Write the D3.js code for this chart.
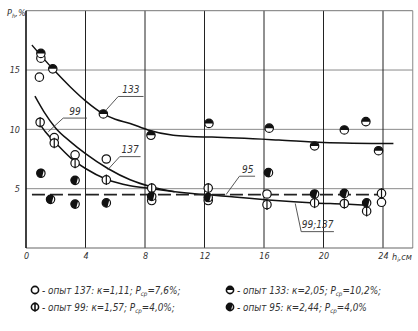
<!DOCTYPE html>
<html>
<head>
<meta charset="utf-8">
<script src="https://cdn.jsdelivr.net/npm/d3@7"></script>
<style>
  body { margin: 0; background: #fff; }
  svg { display: block; }
  text { font-family: "DejaVu Sans Condensed", "DejaVu Sans", sans-serif; font-style: italic; fill: #333; }
</style>
</head>
<body>
<figure id="chart" style="margin:0"></figure>
<script>
// ticks
const xTicks = [0, 4, 8, 12, 16, 20, 24];
const yTicks = [5, 10, 15];
const xGrid = [4, 8, 12, 16, 20, 24];
const yGrid = [5, 10, 15];

// experiment points [h, P]
const s137 = [[0.9,14.4],[1.0,16.0],[1.9,9.3],[3.3,7.85],[5.4,7.5],[8.45,4.0],[12.25,4.0],[16.2,4.55],[23.9,3.85]];
const s99 = [[0.95,10.6],[1.9,8.85],[3.3,7.15],[5.4,5.75],[8.45,5.05],[12.25,5.05],[16.2,3.65],[19.4,3.8],[21.4,3.75],[22.9,3.1],[23.9,4.6]];
const s133 = [[1.0,16.4],[1.8,15.1],[5.2,11.3],[8.4,9.5],[12.3,10.5],[16.35,10.1],[19.4,8.6],[21.4,9.95],[22.85,10.65],[23.7,8.2]];
const s95 = [[1.0,6.3],[1.65,4.1],[3.3,5.7],[3.3,3.7],[5.4,3.8],[8.45,4.35],[12.25,4.25],[16.3,6.35],[19.4,4.55],[21.4,4.6],[22.9,3.8]];

// fitted curves
const fit133 = [[0.4,17.1],[1.8,15.1],[3,13.55],[4,12.4],[5.2,11.3],[6,10.85],[7,10.5],[8.2,9.95],[9.9,9.5],[11,9.4],[12.5,9.35],[17,9.1],[20,8.9],[24.7,8.8]];
const fit99 = [[0.8,10.7],[1.3,9.8],[2,8.85],[3,7.6],[4,6.7],[5.4,5.8],[7,5.25],[8.45,5.0],[10,4.75]];
const fit137 = [[0.6,12.8],[1.2,11.5],[2,10.1],[3,8.95],[4,7.95],[5.5,6.7],[7,5.75],[8.45,5.15],[10,4.75]];
const fitTail = [[10,4.75],[12,4.5],[14,4.3],[16.3,4.05],[18,3.9],[19.4,3.8],[21.4,3.7],[22.9,3.6]];
const fit95 = [[0.4,4.5],[24,4.5]];

// curve labels: text, text pos, underline, leader end
const labels = [
  {t: "133", at: [7.05, 13.1], u: [6.2, 7.9, 12.77], p: [5.4, 11.65]},
  {t: "99", at: [3.3, 11.2], u: [2.5, 4.1, 10.95], p: [1.5, 9.8]},
  {t: "137", at: [7.0, 8.0], u: [6.3, 7.7, 7.7], p: [5.5, 6.6]},
  {t: "95", at: [14.9, 6.3], u: [14.35, 15.4, 6.05], p: [13.45, 4.5]},
  {t: "99;137", at: [19.6, 1.65], u: [18.5, 20.7, 1.38], p: [18.1, 3.75]}
];

const legendRows = [
  [{k: "open", t: "опыт 137: к=1,11; P", s: "ср", e: "=7,6%;"}, {k: "top", t: "опыт 133: к=2,05; P", s: "ср", e: "=10,2%;"}],
  [{k: "phi", t: "опыт 99: к=1,57; P", s: "ср", e: "=4,0%;"}, {k: "diag", t: "опыт 95: к=2,44; P", s: "ср", e: "=4,0%"}]
];

const W = 418, H = 331;
const svg = d3.select("#chart").append("svg").attr("width", W).attr("height", H);

const x = d3.scaleLinear().domain([0, 26]).range([26, 412.75]);
const y = d3.scaleLinear().domain([0, 20]).range([248, 10.7]);

// grid
svg.append("g").selectAll("line").data(yGrid).enter().append("line")
  .attr("x1", x(0)).attr("x2", x(26)).attr("y1", d => y(d)).attr("y2", d => y(d))
  .attr("stroke", "#8a8a8a").attr("stroke-width", 1);
svg.append("g").selectAll("line").data(xGrid).enter().append("line")
  .attr("x1", d => x(d)).attr("x2", d => x(d)).attr("y1", y(0)).attr("y2", y(20))
  .attr("stroke", "#222").attr("stroke-width", 1);
// frame
svg.append("line").attr("x1", x(0)).attr("x2", x(26)).attr("y1", y(20)).attr("y2", y(20)).attr("stroke", "#777");
svg.append("line").attr("x1", x(26)).attr("x2", x(26)).attr("y1", y(20)).attr("y2", y(0)).attr("stroke", "#888");
svg.append("line").attr("x1", x(0)).attr("x2", x(26)).attr("y1", y(0)).attr("y2", y(0)).attr("stroke", "#666").attr("stroke-width", 1.2);
svg.append("line").attr("x1", x(0)).attr("x2", x(0)).attr("y1", y(20)).attr("y2", y(0)).attr("stroke", "#111").attr("stroke-width", 1.6);

// axes labels
const ax = svg.append("g").attr("transform", "translate(0," + y(0) + ")")
  .call(d3.axisBottom(x).tickValues(xTicks).tickSize(0).tickPadding(5).tickFormat(d3.format("d")));
const ay = svg.append("g").attr("transform", "translate(" + x(0) + ",0)")
  .call(d3.axisLeft(y).tickValues(yTicks).tickSize(0).tickPadding(6).tickFormat(d3.format("d")));
[ax, ay].forEach(a => {
  a.select(".domain").remove();
  a.selectAll("text").attr("font-size", 9).attr("fill", "#333")
    .style("font-family", '"DejaVu Sans Condensed", sans-serif').style("font-style", "italic");
});

const xt = svg.append("text").attr("x", x(24) + 9).attr("y", y(0) + 12).attr("font-size", 9);
xt.append("tspan").text("h");
xt.append("tspan").attr("font-size", 6).attr("dy", 2).text("i");
xt.append("tspan").attr("dy", -2).text(",см");

const yt = svg.append("text").attr("x", 7).attr("y", 16).attr("font-size", 9);
yt.append("tspan").text("P");
yt.append("tspan").attr("font-size", 6).attr("dy", 2).text("h");
yt.append("tspan").attr("dy", -2).text(",%");

// curves
const line = d3.line().x(d => x(d[0])).y(d => y(d[1])).curve(d3.curveMonotoneX);
[fit133, fit99, fit137, fitTail].forEach(c => {
  svg.append("path").attr("d", line(c)).attr("fill", "none").attr("stroke", "#111").attr("stroke-width", 1.5);
});
svg.append("path").attr("d", line(fit95)).attr("fill", "none").attr("stroke", "#222")
  .attr("stroke-width", 1.6).attr("stroke-dasharray", "13,5");

// labels with leaders
labels.forEach(l => {
  svg.append("text").attr("x", x(l.at[0])).attr("y", y(l.at[1])).attr("text-anchor", "middle")
    .attr("font-size", 10).text(l.t);
  svg.append("polyline")
    .attr("points", [[x(l.p[0]), y(l.p[1])], [x(l.u[0]), y(l.u[2])], [x(l.u[1]), y(l.u[2])]].map(p => p.join(",")).join(" "))
    .attr("fill", "none").attr("stroke", "#444").attr("stroke-width", 0.9);
});

// markers
function marker(g, kind, cx, cy, r, sw) {
  g.append("circle").attr("cx", cx).attr("cy", cy).attr("r", r)
    .attr("fill", "#fff").attr("stroke", "#111").attr("stroke-width", sw);
  if (kind === "phi") {
    g.append("line").attr("x1", cx).attr("x2", cx).attr("y1", cy - r - 1).attr("y2", cy + r + 1)
      .attr("stroke", "#111").attr("stroke-width", sw);
  } else if (kind === "top") {
    g.append("path").attr("d", `M${cx - r},${cy} A${r},${r} 0 0 1 ${cx + r},${cy} Z`).attr("fill", "#111");
  } else if (kind === "diag") {
    const a = r * 0.707;
    g.append("path").attr("d", `M${cx + a},${cy - a} A${r},${r} 0 1 0 ${cx + a * 0.4},${cy + r * 0.95} Z`).attr("fill", "#111");
  }
}
const pts = svg.append("g");
[[s137, "open"], [s99, "phi"], [s133, "top"], [s95, "diag"]].forEach(([s, k]) => {
  s.forEach(d => marker(pts, k, x(d[0]), y(d[1]), 4.2, 1.2));
});

// legend
const lg = svg.append("g");
legendRows.forEach((row, i) => {
  row.forEach((it, j) => {
    const lx = 35 + j * 195, ly = 290 + i * 17;
    marker(lg, it.k, lx, ly, 3.6, 1.6);
    const t = lg.append("text").attr("x", lx + 7).attr("y", ly + 3.6).attr("font-size", 9.9);
    t.append("tspan").text("- " + it.t);
    t.append("tspan").attr("font-size", 6.2).attr("dy", 2).text(it.s);
    t.append("tspan").attr("dy", -2).text(it.e);
  });
});
</script>
</body>
</html>
